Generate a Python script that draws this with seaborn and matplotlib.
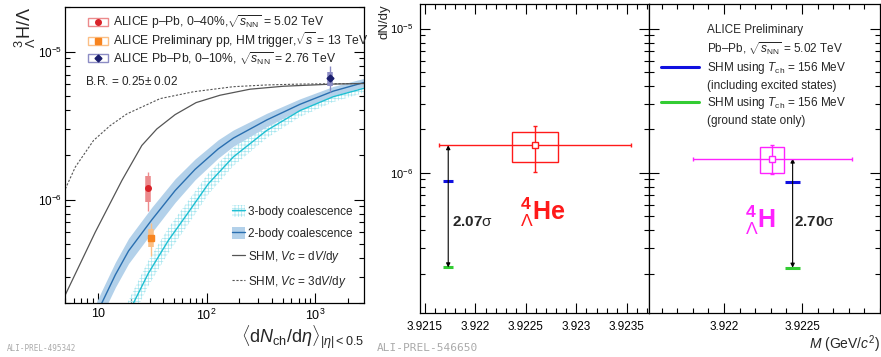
import matplotlib
matplotlib.use("Agg")
import matplotlib.pyplot as plt
import seaborn as sns
from matplotlib.lines import Line2D
from matplotlib.patches import Patch, Rectangle
from matplotlib.legend_handler import HandlerTuple
from matplotlib.ticker import FixedLocator, FixedFormatter, NullFormatter, LogLocator, MultipleLocator

# ---- left panel: model curves ----
nch_shm = [5.03, 9.49, 16.7, 25.4, 34.9, 51.4, 80.1, 133, 251, 507, 1456, 2846]
shm_vc1 = [2.27e-7, 6.03e-7, 1.35e-6, 2.32e-6, 3.0e-6, 3.75e-6, 4.52e-6, 5.07e-6, 5.57e-6, 5.83e-6, 6.03e-6, 6.09e-6]
nch_shm3 = [5.03, 6.22, 9.15, 13.0, 18.5, 37.4, 75.7, 176, 357, 721, 2846]
shm_vc3 = [1.18e-6, 1.66e-6, 2.51e-6, 3.16e-6, 3.79e-6, 4.81e-6, 5.35e-6, 5.79e-6, 5.95e-6, 6.03e-6, 6.09e-6]

nch_2body = [9.0, 10.9, 14.5, 19.2, 31.4, 51.4, 78.4, 128, 176, 357, 721, 1456, 2846]
coal2 = [1.47e-7, 2.0e-7, 3.1e-7, 4.5e-7, 7.3e-7, 1.15e-6, 1.6e-6, 2.2e-6, 2.6e-6, 3.45e-6, 4.4e-6, 5.4e-6, 6.2e-6]
coal2_lo = [1.21e-7, 1.645e-7, 2.55e-7, 3.70e-7, 6.0e-7, 9.57e-7, 1.362e-6, 1.908e-6, 2.291e-6, 3.111e-6, 4.04e-6, 5.02e-6, 5.81e-6]
coal2_hi = [1.79e-7, 2.43e-7, 3.77e-7, 5.47e-7, 8.88e-7, 1.382e-6, 1.88e-6, 2.537e-6, 2.951e-6, 3.826e-6, 4.792e-6, 5.81e-6, 6.615e-6]

nch_3body = [17.5, 21.3, 29.2, 44.6, 68.1, 104, 176, 357, 721, 1456, 2846]
coal3 = [1.49e-7, 2.0e-7, 3.18e-7, 5.3e-7, 8.2e-7, 1.28e-6, 1.94e-6, 2.93e-6, 3.99e-6, 4.95e-6, 5.67e-6]
coal3_lo = [1.225e-7, 1.645e-7, 2.615e-7, 4.36e-7, 6.82e-7, 1.085e-6, 1.683e-6, 2.6e-6, 3.614e-6, 4.558e-6, 5.29e-6]
coal3_hi = [1.81e-7, 2.43e-7, 3.87e-7, 6.44e-7, 9.86e-7, 1.51e-6, 2.237e-6, 3.302e-6, 4.405e-6, 5.376e-6, 6.078e-6]

# ---- left panel: measurements ----
exp_labels = [r"ALICE p–Pb, 0–40%,$\sqrt{s_{\rm NN}}$ = 5.02 TeV",
              r"ALICE Preliminary pp, HM trigger,$\sqrt{s}$ = 13 TeV",
              r"ALICE Pb–Pb, 0–10%, $\sqrt{s_{\rm NN}}$ = 2.76 TeV"]
exp_nch = [29.2, 31.0, 1358]
exp_ratio = [1.19e-6, 0.551e-6, 6.62e-6]
exp_stat_lo = [0.84e-6, 0.415e-6, 5.37e-6]
exp_stat_hi = [1.53e-6, 0.689e-6, 7.93e-6]
exp_sys_lo = [0.963e-6, 0.475e-6, 5.88e-6]
exp_sys_hi = [1.435e-6, 0.628e-6, 7.33e-6]
exp_markers = ["o", "s", "D"]
exp_colors = ["#d9232a", "#f7841f", "#1b1f6e"]
exp_light = ["#ec8a8c", "#fbbf85", "#8c8cc4"]

# ---- right panels: 4ΛHe and 4ΛH ----
hyp_mass = [3.92259, 3.92231]
hyp_mass_stat = [0.00095, 0.00051]
hyp_mass_sys = [0.00023, 0.000077]
hyp_yield = [1.556e-6, 1.257e-6]
hyp_stat_lo = [1.02e-6, 0.98e-6]
hyp_stat_hi = [2.1e-6, 1.55e-6]
hyp_sys_lo = [1.19e-6, 0.995e-6]
hyp_sys_hi = [1.92e-6, 1.515e-6]
shm_mass = [3.92173, 3.92244]
shm_excited = [0.88e-6, 0.866e-6]
shm_ground = [2.21e-7, 2.2e-7]
sigma_labels = ["2.07", "2.70"]
hyp_names = [r"$^{\mathbf{4}}_{\Lambda}$He", r"$^{\mathbf{4}}_{\Lambda}$H"]

left_xticks = [10, 100, 1000]
left_xticklabels = ["10", r"$10^{2}$", r"$10^{3}$"]
mid_xticks = [3.9215, 3.922, 3.9225, 3.923, 3.9235]
mid_xticklabels = ["3.9215", "3.922", "3.9225", "3.923", "3.9235"]
right_xticks = [3.922, 3.9225]
right_xticklabels = ["3.922", "3.9225"]

sns.set_theme(style="ticks")
plt.rcParams["font.family"] = ["Liberation Sans", "DejaVu Sans"]
plt.rcParams["mathtext.fontset"] = "custom"
plt.rcParams["mathtext.rm"] = "Liberation Sans"
plt.rcParams["mathtext.it"] = "Liberation Sans:italic"
plt.rcParams["mathtext.bf"] = "Liberation Sans:bold"
plt.rcParams["axes.linewidth"] = 0.9
plt.rcParams["axes.edgecolor"] = "black"
plt.rcParams["hatch.linewidth"] = 0.5


def root_ticks(ax, top=True):
    ax.tick_params(which="both", direction="in", top=top, right=True,
                   colors="black", width=0.8, labelsize=8.5)
    ax.tick_params(which="major", length=7)
    ax.tick_params(which="minor", length=3.5)


fig = plt.figure(figsize=(8.81, 3.57), dpi=100)
ax1 = fig.add_axes([0.0738, 0.1513, 0.3394, 0.829])
ax2 = fig.add_axes([0.4767, 0.1232, 0.26, 0.8655])
ax3 = fig.add_axes([0.7367, 0.1232, 0.2622, 0.8655])

# ================= left panel =================
ax1.set_xscale("log")
ax1.set_yscale("log")
ax1.fill_between(nch_3body, coal3_lo, coal3_hi, facecolor="none",
                 edgecolor="#a6e6ef", hatch="+++++", linewidth=0)
ax1.fill_between(nch_2body, coal2_lo, coal2_hi, color="#b3d1ea", linewidth=0)
sns.lineplot(x=nch_3body, y=coal3, ax=ax1, color="#1fbfd2", lw=1)
sns.lineplot(x=nch_2body, y=coal2, ax=ax1, color="#2a6fb0", lw=1)
sns.lineplot(x=nch_shm, y=shm_vc1, ax=ax1, color="#555555", lw=0.9)
sns.lineplot(x=nch_shm3, y=shm_vc3, ax=ax1, color="#555555", lw=0.8,
             linestyle=(0, (2, 1.5)))

for i in range(3):
    ax1.vlines(exp_nch[i], exp_sys_lo[i], exp_sys_hi[i], color=exp_light[i], lw=4)
    ax1.errorbar(exp_nch[i], exp_ratio[i],
                 yerr=[[exp_ratio[i] - exp_stat_lo[i]], [exp_stat_hi[i] - exp_ratio[i]]],
                 fmt=exp_markers[i], color=exp_colors[i], ecolor=exp_light[i],
                 elinewidth=1, ms=4 if i != 2 else 3.5, capsize=0, zorder=5)

ax1.set_xlim(5, 2800)
ax1.set_ylim(2e-7, 2e-5)
root_ticks(ax1, top=False)
ax1.xaxis.set_major_locator(FixedLocator(left_xticks))
ax1.xaxis.set_major_formatter(FixedFormatter(left_xticklabels))
ax1.xaxis.set_minor_locator(LogLocator(base=10, subs=range(2, 10), numticks=20))
ax1.xaxis.set_minor_formatter(NullFormatter())
ax1.yaxis.set_minor_formatter(NullFormatter())
ax1.tick_params(axis="x", labelsize=9, pad=3.5)
ax1.tick_params(axis="y", pad=2)

ax1.set_xlabel(r"$\langle\mathrm{d}N_{\rm ch}/\mathrm{d}\eta\rangle_{|\eta|<0.5}$",
               fontsize=13, loc="right")
ax1.xaxis.set_label_coords(1.0, -0.07)
ax1.set_ylabel(r"${}^{3}_{\Lambda}\mathrm{H}/\Lambda$", fontsize=13, loc="top")
ax1.yaxis.set_label_coords(-0.09, 1.0)

exp_handles = [(Patch(facecolor="none", edgecolor=exp_light[i], lw=1),
                Line2D([], [], marker=exp_markers[i], color=exp_colors[i], ls="none",
                       ms=4 if i != 2 else 3.5))
               for i in range(3)]
leg1 = ax1.legend(exp_handles, exp_labels, loc="upper left", bbox_to_anchor=(0.077, 0.978),
                  frameon=False, fontsize=8.7, borderpad=0, borderaxespad=0,
                  handlelength=1.65, handletextpad=0.4, labelspacing=-0.05,
                  handler_map={tuple: HandlerTuple(ndivide=1)})
ax1.add_artist(leg1)
ax1.text(0.067, 0.747, r"B.R. = 0.25$\pm$ 0.02", transform=ax1.transAxes,
         fontsize=8.5, va="center")

model_handles = [
    (Patch(facecolor="none", edgecolor="#a6e6ef", hatch="+++++", lw=0),
     Line2D([], [], color="#1fbfd2", lw=1)),
    (Patch(facecolor="#b3d1ea", lw=0), Line2D([], [], color="#2a6fb0", lw=1)),
    Line2D([], [], color="#555555", lw=0.9),
    Line2D([], [], color="#555555", lw=0.8, linestyle=(0, (2, 1.5))),
]
model_labels = ["3-body coalescence", "2-body coalescence",
                r"SHM, $Vc$ = d$V$/d$y$", r"SHM, $Vc$ = 3d$V$/d$y$"]
ax1.legend(model_handles, model_labels, loc="upper left", bbox_to_anchor=(0.558, 0.33),
           frameon=False, fontsize=8.5, borderpad=0, borderaxespad=0,
           handlelength=1.15, handleheight=1.2, handletextpad=0.2, labelspacing=0.75,
           handler_map={tuple: HandlerTuple(ndivide=1)})

# ================= right panels =================
hyp_colors = ["#ff1a1a", "#ff22ff"]
for k, ax in enumerate([ax2, ax3]):
    ax.set_yscale("log")
    c = hyp_colors[k]
    ax.add_patch(Rectangle((hyp_mass[k] - hyp_mass_sys[k], hyp_sys_lo[k]),
                           2 * hyp_mass_sys[k], hyp_sys_hi[k] - hyp_sys_lo[k],
                           fill=False, edgecolor=c, lw=1))
    ax.errorbar(hyp_mass[k], hyp_yield[k], xerr=hyp_mass_stat[k],
                yerr=[[hyp_yield[k] - hyp_stat_lo[k]], [hyp_stat_hi[k] - hyp_yield[k]]],
                fmt="s", mfc="white", mec=c, color=c, ms=4.5, mew=1, elinewidth=1,
                capsize=1.5, zorder=5)
    ax.hlines(shm_excited[k], shm_mass[k] - 0.00005, shm_mass[k] + 0.00005,
              color="#1010e0", lw=2.2)
    ax.hlines(shm_ground[k], shm_mass[k] - 0.00005, shm_mass[k] + 0.00005,
              color="#33cc33", lw=2.2)
    ax.annotate("", xy=(shm_mass[k], shm_ground[k]), xytext=(shm_mass[k], hyp_yield[k]),
                arrowprops=dict(arrowstyle="<|-|>", color="black", lw=0.8,
                                mutation_scale=6, shrinkA=0, shrinkB=0))
    ax.set_ylim(1.067e-7, 1.48e-5)
    root_ticks(ax)
    ax.xaxis.set_minor_locator(MultipleLocator(0.0001))
    ax.yaxis.set_minor_formatter(NullFormatter())
    ax.tick_params(axis="x", pad=6)
    ax.tick_params(axis="y", pad=5, labelsize=8)

ax2.set_xlim(3.92145, 3.92372)
ax2.xaxis.set_major_locator(FixedLocator(mid_xticks))
ax2.xaxis.set_major_formatter(FixedFormatter(mid_xticklabels))
ax3.set_xlim(3.92152, 3.923)
ax3.xaxis.set_major_locator(FixedLocator(right_xticks))
ax3.xaxis.set_major_formatter(FixedFormatter(right_xticklabels))
ax3.tick_params(axis="y", labelleft=False)

ax2.set_ylabel("dN/dy", fontsize=9.5, loc="top")
ax2.yaxis.set_label_coords(-0.13, 1.0)
ax3.set_xlabel(r"$M$ (GeV/$c^{2}$)", fontsize=10, loc="right")
ax3.xaxis.set_label_coords(1.0, -0.065)

ax2.text(0.437, 0.301, hyp_names[0], transform=ax2.transAxes, color=hyp_colors[0],
         fontsize=18, fontweight="bold", va="baseline")
ax3.text(0.416, 0.276, hyp_names[1], transform=ax3.transAxes, color=hyp_colors[1],
         fontsize=18, fontweight="bold", va="baseline")
ax2.text(0.14, 0.281, sigma_labels[0] + r"$\mathrm{\sigma}$", transform=ax2.transAxes,
         fontsize=11, fontweight="bold", va="baseline")
ax3.text(0.628, 0.2816, sigma_labels[1] + r"$\mathrm{\sigma}$", transform=ax3.transAxes,
         fontsize=11, fontweight="bold", va="baseline")

none = Line2D([], [], color="none")
shm_handles = [none, none, Line2D([], [], color="#1010e0", lw=2.2), none,
               Line2D([], [], color="#33cc33", lw=2.2), none]
shm_labels = ["ALICE Preliminary", r"Pb–Pb, $\sqrt{s_{\rm NN}}$ = 5.02 TeV",
              r"SHM using $T_{\rm ch}$ = 156 MeV", "(including excited states)",
              r"SHM using $T_{\rm ch}$ = 156 MeV", "(ground state only)"]
ax3.legend(shm_handles, shm_labels, loc="upper left", bbox_to_anchor=(0.052, 0.935),
           frameon=False, fontsize=8.5, borderpad=0, borderaxespad=0,
           handlelength=3.2, handletextpad=0.7, labelspacing=0.3)

fig.text(0.0076, 0.025, "ALI-PREL-495342", family="monospace", fontsize=5.5,
         color="#aaaaaa", va="center")
fig.text(0.4277, 0.026, "ALI-PREL-546650", family="monospace", fontsize=8,
         color="#aaaaaa", va="center")

fig.savefig("out.png", dpi=100)
